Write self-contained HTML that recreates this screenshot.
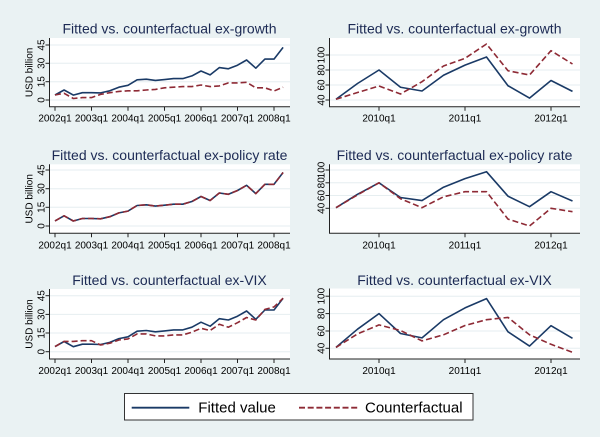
<!DOCTYPE html>
<html><head><meta charset="utf-8">
<style>
html,body{margin:0;padding:0;background:#eaf2f3;}
svg{display:block;}
text{font-family:"Liberation Sans",Arial,sans-serif;}
.t{font-size:14px;fill:#1c2a54;}
.tk{font-size:10px;fill:#000;}
.ax{stroke:#222;stroke-width:1;fill:none;}
.gr{stroke:#e6eef0;stroke-width:1;}
.b{fill:none;stroke:#1a3a66;stroke-width:1.6;stroke-linejoin:round;}
.r{fill:none;stroke:#8e2a35;stroke-width:1.6;stroke-dasharray:6 3;stroke-linejoin:round;}
</style></head>
<body>
<svg width="600" height="437" viewBox="0 0 600 437" xmlns="http://www.w3.org/2000/svg">
<rect x="0" y="0" width="600" height="437" fill="#eaf2f3"/>

<!-- ============ ROW 1 LEFT ============ -->
<rect x="49.5" y="38" width="240.5" height="68.7" fill="#fff"/>
<g class="gr"><line x1="50" y1="45" x2="290" y2="45"/><line x1="50" y1="63.3" x2="290" y2="63.3"/><line x1="50" y1="81.7" x2="290" y2="81.7"/><line x1="50" y1="100" x2="290" y2="100"/></g>
<polyline class="ax" points="49.5,38 49.5,106.7 290,106.7"/>
<g class="ax"><line x1="45.5" y1="45" x2="49.5" y2="45"/><line x1="45.5" y1="63.3" x2="49.5" y2="63.3"/><line x1="45.5" y1="81.7" x2="49.5" y2="81.7"/><line x1="45.5" y1="100" x2="49.5" y2="100"/>
<line x1="55" y1="106.7" x2="55" y2="110.7"/><line x1="91.5" y1="106.7" x2="91.5" y2="110.7"/><line x1="128" y1="106.7" x2="128" y2="110.7"/><line x1="164.5" y1="106.7" x2="164.5" y2="110.7"/><line x1="201" y1="106.7" x2="201" y2="110.7"/><line x1="237.5" y1="106.7" x2="237.5" y2="110.7"/><line x1="274" y1="106.7" x2="274" y2="110.7"/></g>
<g class="tk" text-anchor="middle">
<text transform="translate(44.5,45) rotate(-90)">45</text><text transform="translate(44.5,63.3) rotate(-90)">30</text><text transform="translate(44.5,81.7) rotate(-90)">15</text><text transform="translate(44.5,100) rotate(-90)">0</text>
<text transform="translate(32.5,72.4) rotate(-90)">USD billion</text>
<text x="55" y="121.7">2002q1</text><text x="91.5" y="121.7">2003q1</text><text x="128" y="121.7">2004q1</text><text x="164.5" y="121.7">2005q1</text><text x="201" y="121.7">2006q1</text><text x="237.5" y="121.7">2007q1</text><text x="274" y="121.7">2008q1</text>
</g>
<text class="t" x="169.5" y="33.3" text-anchor="middle">Fitted vs. counterfactual ex-growth</text>
<polyline class="b" points="55,95 64.1,90 73.3,95.1 82.4,92.7 91.5,92.7 100.6,92.9 109.8,90.8 118.9,87.2 128,85.3 137.1,79.8 146.3,79.2 155.4,80.4 164.5,79.6 173.6,78.6 182.8,78.6 191.9,75.9 201,71 210.1,74.9 219.3,67.6 228.4,68.8 237.5,65.2 246.6,60 255.8,68.2 264.9,59.1 274,59.1 283.1,47.4"/>
<polyline class="r" points="55,95 64.1,93.3 73.3,98.5 82.4,97.6 91.5,97.6 100.6,94.4 109.8,92.7 118.9,91.4 128,90.8 137.1,90.8 146.3,90 155.4,89.4 164.5,87.8 173.6,87.2 182.8,86.6 191.9,86.6 201,85 210.1,86.6 219.3,85.9 228.4,82.9 237.5,82.9 246.6,82.3 255.8,87.8 264.9,87.8 274,91 283.1,87.2"/>

<!-- ============ ROW 1 RIGHT ============ -->
<rect x="329.5" y="38" width="250.5" height="68.7" fill="#fff"/>
<g class="gr"><line x1="330" y1="55" x2="580" y2="55"/><line x1="330" y1="70" x2="580" y2="70"/><line x1="330" y1="85" x2="580" y2="85"/><line x1="330" y1="100" x2="580" y2="100"/></g>
<polyline class="ax" points="329.5,38 329.5,106.7 580,106.7"/>
<g class="ax"><line x1="325.5" y1="55" x2="329.5" y2="55"/><line x1="325.5" y1="70" x2="329.5" y2="70"/><line x1="325.5" y1="85" x2="329.5" y2="85"/><line x1="325.5" y1="100" x2="329.5" y2="100"/>
<line x1="379" y1="106.7" x2="379" y2="110.7"/><line x1="465" y1="106.7" x2="465" y2="110.7"/><line x1="551" y1="106.7" x2="551" y2="110.7"/></g>
<g class="tk" text-anchor="middle">
<text transform="translate(324.5,55) rotate(-90)">100</text><text transform="translate(324.5,70) rotate(-90)">80</text><text transform="translate(324.5,85) rotate(-90)">60</text><text transform="translate(324.5,100) rotate(-90)">40</text>
<text x="379" y="121.7">2010q1</text><text x="465" y="121.7">2011q1</text><text x="551" y="121.7">2012q1</text>
</g>
<text class="t" x="454.5" y="33.3" text-anchor="middle">Fitted vs. counterfactual ex-growth</text>
<polyline class="b" points="336,99.25 357.5,83.5 379,70 400.5,87.25 422,91 443.5,75.25 465,65.1 486.5,57 508,85.75 529.5,98.1 551,80.5 572.5,91.4"/>
<polyline class="r" points="336,99.25 357.5,92.5 379,86 400.5,94 422,81.7 443.5,66 465,58.3 486.5,44 508,70.75 529.5,75 551,50.7 572.5,64"/>

<!-- ============ ROW 2 LEFT ============ -->
<rect x="49.5" y="164.3" width="240.5" height="69" fill="#fff"/>
<g class="gr"><line x1="50" y1="170" x2="290" y2="170"/><line x1="50" y1="188.7" x2="290" y2="188.7"/><line x1="50" y1="207.3" x2="290" y2="207.3"/><line x1="50" y1="226" x2="290" y2="226"/></g>
<polyline class="ax" points="49.5,164.3 49.5,233.3 290,233.3"/>
<g class="ax"><line x1="45.5" y1="170" x2="49.5" y2="170"/><line x1="45.5" y1="188.7" x2="49.5" y2="188.7"/><line x1="45.5" y1="207.3" x2="49.5" y2="207.3"/><line x1="45.5" y1="226" x2="49.5" y2="226"/>
<line x1="55" y1="233.3" x2="55" y2="237.3"/><line x1="91.5" y1="233.3" x2="91.5" y2="237.3"/><line x1="128" y1="233.3" x2="128" y2="237.3"/><line x1="164.5" y1="233.3" x2="164.5" y2="237.3"/><line x1="201" y1="233.3" x2="201" y2="237.3"/><line x1="237.5" y1="233.3" x2="237.5" y2="237.3"/><line x1="274" y1="233.3" x2="274" y2="237.3"/></g>
<g class="tk" text-anchor="middle">
<text transform="translate(44.5,170) rotate(-90)">45</text><text transform="translate(44.5,188.7) rotate(-90)">30</text><text transform="translate(44.5,207.3) rotate(-90)">15</text><text transform="translate(44.5,226) rotate(-90)">0</text>
<text transform="translate(32.5,198.8) rotate(-90)">USD billion</text>
<text x="55" y="248.3">2002q1</text><text x="91.5" y="248.3">2003q1</text><text x="128" y="248.3">2004q1</text><text x="164.5" y="248.3">2005q1</text><text x="201" y="248.3">2006q1</text><text x="237.5" y="248.3">2007q1</text><text x="274" y="248.3">2008q1</text>
</g>
<text class="t" x="169.5" y="160" text-anchor="middle">Fitted vs. counterfactual ex-policy rate</text>
<polyline class="b" points="55,220.9 64.1,215.8 73.3,221 82.4,218.5 91.5,218.5 100.6,218.8 109.8,216.7 118.9,212.9 128,211.1 137.1,205.5 146.3,204.8 155.4,206.1 164.5,205.2 173.6,204.2 182.8,204.2 191.9,201.5 201,196.5 210.1,200.5 219.3,193 228.4,194.3 237.5,190.5 246.6,185.3 255.8,193.6 264.9,184.3 274,184.3 283.1,172.5"/>
<polyline class="r" points="55,220.9 64.1,215.8 73.3,221 82.4,218.5 91.5,218.5 100.6,218.8 109.8,216.7 118.9,212.9 128,211.1 137.1,205.5 146.3,204.8 155.4,206.1 164.5,205.2 173.6,204.2 182.8,204.2 191.9,201.5 201,196.5 210.1,200.5 219.3,193 228.4,194.3 237.5,190.5 246.6,185.3 255.8,193.6 264.9,184.3 274,184.3 283.1,172.5"/>

<!-- ============ ROW 2 RIGHT ============ -->
<rect x="329.5" y="164.3" width="250.5" height="69" fill="#fff"/>
<g class="gr"><line x1="330" y1="170" x2="580" y2="170"/><line x1="330" y1="182.8" x2="580" y2="182.8"/><line x1="330" y1="195.5" x2="580" y2="195.5"/><line x1="330" y1="208.3" x2="580" y2="208.3"/></g>
<polyline class="ax" points="329.5,164.3 329.5,233.3 580,233.3"/>
<g class="ax"><line x1="325.5" y1="170" x2="329.5" y2="170"/><line x1="325.5" y1="182.8" x2="329.5" y2="182.8"/><line x1="325.5" y1="195.5" x2="329.5" y2="195.5"/><line x1="325.5" y1="208.3" x2="329.5" y2="208.3"/>
<line x1="379" y1="233.3" x2="379" y2="237.3"/><line x1="465" y1="233.3" x2="465" y2="237.3"/><line x1="551" y1="233.3" x2="551" y2="237.3"/></g>
<g class="tk" text-anchor="middle">
<text transform="translate(324.5,170) rotate(-90)">100</text><text transform="translate(324.5,182.8) rotate(-90)">80</text><text transform="translate(324.5,195.5) rotate(-90)">60</text><text transform="translate(324.5,208.3) rotate(-90)">40</text>
<text x="379" y="248.3">2010q1</text><text x="465" y="248.3">2011q1</text><text x="551" y="248.3">2012q1</text>
</g>
<text class="t" x="454.5" y="160" text-anchor="middle">Fitted vs. counterfactual ex-policy rate</text>
<polyline class="b" points="336,207.7 357.5,194.3 379,182.8 400.5,197.5 422,200.6 443.5,187.2 465,178.6 486.5,171.7 508,196.2 529.5,206.7 551,191.7 572.5,201"/>
<polyline class="r" points="336,207.7 357.5,194.9 379,182.8 400.5,198.7 422,207.7 443.5,196.8 465,191.7 486.5,191.7 508,219.1 529.5,226 551,208.3 572.5,211.7"/>

<!-- ============ ROW 3 LEFT ============ -->
<rect x="49.5" y="289" width="240.5" height="70" fill="#fff"/>
<g class="gr"><line x1="50" y1="295.7" x2="290" y2="295.7"/><line x1="50" y1="314.4" x2="290" y2="314.4"/><line x1="50" y1="333" x2="290" y2="333"/><line x1="50" y1="351.7" x2="290" y2="351.7"/></g>
<polyline class="ax" points="49.5,289 49.5,359 290,359"/>
<g class="ax"><line x1="45.5" y1="295.7" x2="49.5" y2="295.7"/><line x1="45.5" y1="314.4" x2="49.5" y2="314.4"/><line x1="45.5" y1="333" x2="49.5" y2="333"/><line x1="45.5" y1="351.7" x2="49.5" y2="351.7"/>
<line x1="55" y1="359" x2="55" y2="363"/><line x1="91.5" y1="359" x2="91.5" y2="363"/><line x1="128" y1="359" x2="128" y2="363"/><line x1="164.5" y1="359" x2="164.5" y2="363"/><line x1="201" y1="359" x2="201" y2="363"/><line x1="237.5" y1="359" x2="237.5" y2="363"/><line x1="274" y1="359" x2="274" y2="363"/></g>
<g class="tk" text-anchor="middle">
<text transform="translate(44.5,295.7) rotate(-90)">45</text><text transform="translate(44.5,314.4) rotate(-90)">30</text><text transform="translate(44.5,333) rotate(-90)">15</text><text transform="translate(44.5,351.7) rotate(-90)">0</text>
<text transform="translate(32.5,324) rotate(-90)">USD billion</text>
<text x="55" y="374">2002q1</text><text x="91.5" y="374">2003q1</text><text x="128" y="374">2004q1</text><text x="164.5" y="374">2005q1</text><text x="201" y="374">2006q1</text><text x="237.5" y="374">2007q1</text><text x="274" y="374">2008q1</text>
</g>
<text class="t" x="169.5" y="285" text-anchor="middle">Fitted vs. counterfactual ex-VIX</text>
<polyline class="b" points="55,346.6 64.1,341.5 73.3,346.7 82.4,344.2 91.5,344.2 100.6,344.5 109.8,342.4 118.9,338.6 128,336.8 137.1,331.2 146.3,330.5 155.4,331.8 164.5,330.9 173.6,329.9 182.8,329.9 191.9,327.2 201,322.2 210.1,326.2 219.3,318.7 228.4,320 237.5,316.2 246.6,311 255.8,319.3 264.9,310 274,310 283.1,298.2"/>
<polyline class="r" points="55,346.6 64.1,341.4 73.3,341.4 82.4,340.7 91.5,340.7 100.6,345 109.8,343.2 118.9,340 128,338.9 137.1,333.9 146.3,333.9 155.4,335.9 164.5,335.9 173.6,334.9 182.8,334.9 191.9,332.2 201,328.3 210.1,330.5 219.3,324.3 228.4,327.2 237.5,322.7 246.6,317.5 255.8,320 264.9,309.4 274,306.9 283.1,298.2"/>

<!-- ============ ROW 3 RIGHT ============ -->
<rect x="329.5" y="288.5" width="250.5" height="70.5" fill="#fff"/>
<g class="gr"><line x1="330" y1="296.2" x2="580" y2="296.2"/><line x1="330" y1="313.6" x2="580" y2="313.6"/><line x1="330" y1="331" x2="580" y2="331"/><line x1="330" y1="348.3" x2="580" y2="348.3"/></g>
<polyline class="ax" points="329.5,288.5 329.5,359 580,359"/>
<g class="ax"><line x1="325.5" y1="296.2" x2="329.5" y2="296.2"/><line x1="325.5" y1="313.6" x2="329.5" y2="313.6"/><line x1="325.5" y1="331" x2="329.5" y2="331"/><line x1="325.5" y1="348.3" x2="329.5" y2="348.3"/>
<line x1="379" y1="359" x2="379" y2="363"/><line x1="465" y1="359" x2="465" y2="363"/><line x1="551" y1="359" x2="551" y2="363"/></g>
<g class="tk" text-anchor="middle">
<text transform="translate(324.5,296.2) rotate(-90)">100</text><text transform="translate(324.5,313.6) rotate(-90)">80</text><text transform="translate(324.5,331) rotate(-90)">60</text><text transform="translate(324.5,348.3) rotate(-90)">40</text>
<text x="379" y="374">2010q1</text><text x="465" y="374">2011q1</text><text x="551" y="374">2012q1</text>
</g>
<text class="t" x="454.5" y="285" text-anchor="middle">Fitted vs. counterfactual ex-VIX</text>
<polyline class="b" points="336,347.4 357.5,329.2 379,313.6 400.5,333.5 422,337.9 443.5,319.7 465,307.9 486.5,298.6 508,331.8 529.5,346.1 551,325.7 572.5,338.3"/>
<polyline class="r" points="336,347.4 357.5,333.9 379,324.9 400.5,330.5 422,340.9 443.5,334.8 465,325.5 486.5,319.7 508,317.4 529.5,334.8 551,344.3 572.5,352.3"/>

<!-- ============ LEGEND ============ -->
<rect x="124.5" y="393.5" width="348.5" height="26.5" fill="#fff" stroke="#333" stroke-width="1"/>
<line x1="131.7" y1="407.7" x2="189.3" y2="407.7" stroke="#1a3a66" stroke-width="1.8"/>
<text x="198.3" y="412.7" style="font-size:15px;fill:#000;">Fitted value</text>
<line x1="299" y1="407.7" x2="357.3" y2="407.7" stroke="#8e2a35" stroke-width="1.8" stroke-dasharray="6 2.7"/>
<text x="365" y="412.7" style="font-size:15px;fill:#000;">Counterfactual</text>
</svg>
</body></html>
